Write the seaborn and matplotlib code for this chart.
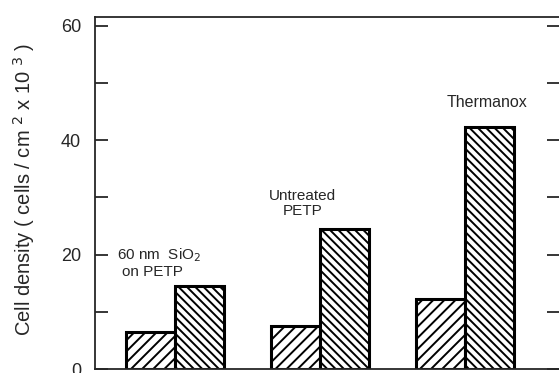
import numpy as np
import pandas as pd
import seaborn as sns
import matplotlib.pyplot as plt
from matplotlib.ticker import MultipleLocator

# data
substrates = ['60 nm SiO2 on PETP', 'Untreated PETP', 'Thermanox']
bar1 = [6.4, 7.5, 12.2]
bar2 = [14.5, 24.4, 42.2]

df = pd.DataFrame({
    'Substrate': substrates * 2,
    'Density': bar1 + bar2,
    'Bar': ['1'] * 3 + ['2'] * 3,
})

sns.set_style('ticks')
plt.rcParams['font.family'] = ['Liberation Sans', 'DejaVu Sans']
plt.rcParams['hatch.linewidth'] = 1.4
plt.rcParams['hatch.color'] = 'black'

fig = plt.figure(figsize=(5.59, 3.73), dpi=100)
ax = fig.add_axes([95 / 559, 4 / 373, 1 - 95 / 559, 352 / 373])

sns.barplot(data=df, x='Substrate', y='Density', hue='Bar', width=0.68,
            palette=['white', 'white'], edgecolor='black', linewidth=2.2,
            saturation=1, legend=False, ax=ax)

n = len(substrates)
for i, p in enumerate(ax.patches[:2 * n]):
    p.set_hatch('///' if i < n else '\\\\\\\\')

ax.set_xlim(-0.552, 2.648)
ax.set_ylim(0, 61.5)
ax.set_yticks([0, 20, 40, 60])
ax.yaxis.set_minor_locator(MultipleLocator(10))
ax.tick_params(axis='y', which='both', direction='in', length=9, width=1.3,
               labelsize=13, right=True, pad=10)
ax.tick_params(axis='y', which='minor', length=9)
ax.set_xticks([])
ax.set_xlabel('')
ax.set_ylabel('Cell density ( cells / cm $^2$ x 10 $^3$ )', fontsize=14.5,
              labelpad=13)
ax.yaxis.set_label_coords(-0.125, 0.51)

ax.spines['right'].set_visible(False)
for s in ['left', 'top', 'bottom']:
    ax.spines[s].set_linewidth(1.3)

# labels above the groups
ax.text(-0.40, 19.9, '60 nm  SiO$_2$', fontsize=11, ha='left', va='center')
ax.text(-0.367, 16.9, 'on PETP', fontsize=11, ha='left', va='center')
ax.text(0.88, 28.9, 'Untreated\nPETP', fontsize=11, ha='center', va='center',
        linespacing=1.1)
ax.text(2.15, 46.6, 'Thermanox', fontsize=11.5, ha='center', va='center')

plt.savefig('out.png', dpi=100)
